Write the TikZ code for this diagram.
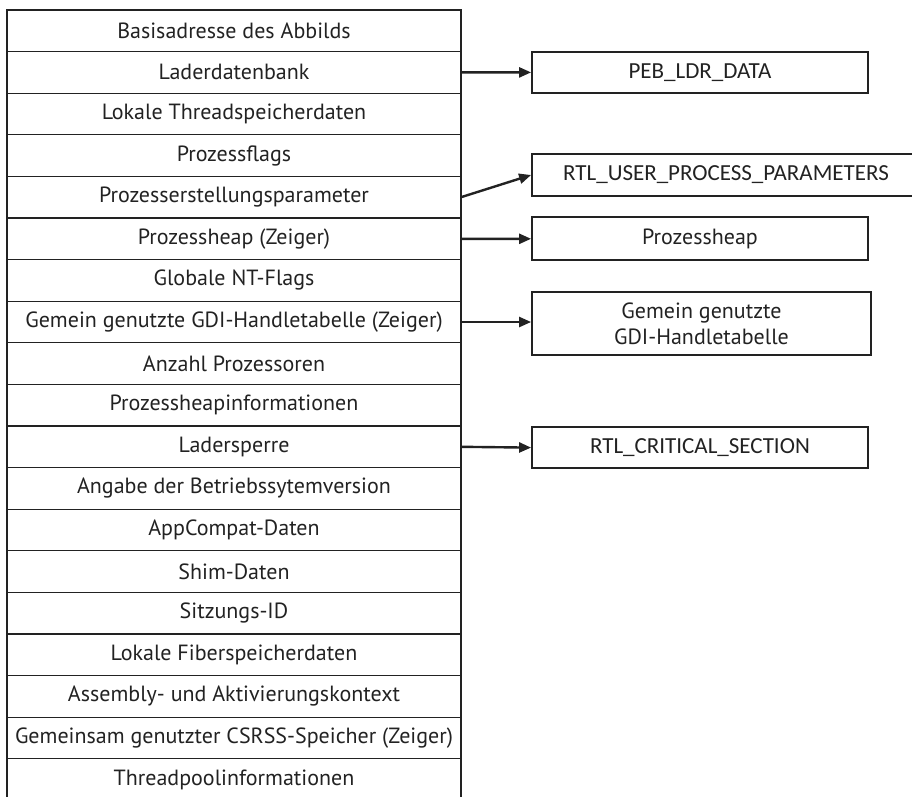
\documentclass[tikz,border=0pt]{standalone}
\usepackage{fontspec}
\setmainfont{PT Sans}
\newfontfamily\calfont{Carlito}
\usetikzlibrary{arrows.meta}
\definecolor{ink}{HTML}{222222}
\begin{document}
\begin{tikzpicture}[x=1pt,y=-1pt,
  field/.style={draw=ink, line width=1.2pt, minimum width=454pt, minimum height=41.6pt,
    inner sep=0pt, outer sep=0pt, anchor=north west, font=\fontsize{22}{26}\selectfont, text=ink},
  lastfield/.style={field, draw=none},
  target/.style={draw=ink, line width=1.8pt, inner sep=0pt, text=ink, align=center,
    font=\fontsize{22}{26}\selectfont},
  typename/.style={target, font=\calfont\fontsize{23}{27}\selectfont},
  ptr/.style={draw=ink, line width=2.4pt, -{Triangle[length=12pt,width=10pt]}}]
\useasboundingbox (0,0) rectangle (912,796);
\clip (0,0) rectangle (912,796);

% PEB fields, one row each
\foreach \t [count=\i from 0] in {
  Basisadresse des Abbilds,
  Laderdatenbank,
  Lokale Threadspeicherdaten,
  Prozessflags,
  Prozesserstellungsparameter,
  Prozessheap (Zeiger),
  Globale NT-Flags,
  Gemein genutzte GDI-Handletabelle (Zeiger),
  Anzahl Prozessoren,
  Prozessheapinformationen,
  Ladersperre,
  Angabe der Betriebssytemversion,
  AppCompat-Daten,
  Shim-Daten,
  Sitzungs-ID,
  Lokale Fiberspeicherdaten,
  Assembly- und Aktivierungskontext,
  Gemeinsam genutzter CSRSS-Speicher (Zeiger)}
  \node[field] (r\i) at (7,{10+41.6*\i}) {\t};
\node[lastfield] (r18) at (7,{10+41.6*18}) {Threadpoolinformationen};
% the last row continues past the lower edge
\coordinate (bl) at (7,800);
\coordinate (br) at (461,800);
\draw[ink, line width=1.2pt] (r18.north west) -- (bl);
\draw[ink, line width=1.2pt] (r18.north east) -- (br);

% referenced structures
\node[typename, minimum width=336pt, minimum height=41pt] (peb) at (700,72.4) {PEB\_LDR\_DATA};
\node[typename, minimum width=388pt, minimum height=42pt] (rtlu) at (726,175) {RTL\_USER\_PROCESS\_PARAMETERS};
\node[target, minimum width=336pt, minimum height=43pt] (heap) at (700,238.8) {Prozessheap};
\node[target, minimum width=339pt, minimum height=63pt] (gdi) at (701.5,323.5) {Gemein genutzte\\GDI-Handletabelle};
\node[typename, minimum width=336pt, minimum height=41pt] (crit) at (700,447.6) {RTL\_CRITICAL\_SECTION};

% pointers
\draw[ptr] (r1.east) -- (peb.west);
\draw[ptr] (r4.east) -- (rtlu.west);
\draw[ptr] (r5.east) -- (heap.west);
\draw[ptr] (r7.east) -- (r7.east -| gdi.west);
\draw[ptr] (r10.east) -- (crit.west);
\end{tikzpicture}
\end{document}
